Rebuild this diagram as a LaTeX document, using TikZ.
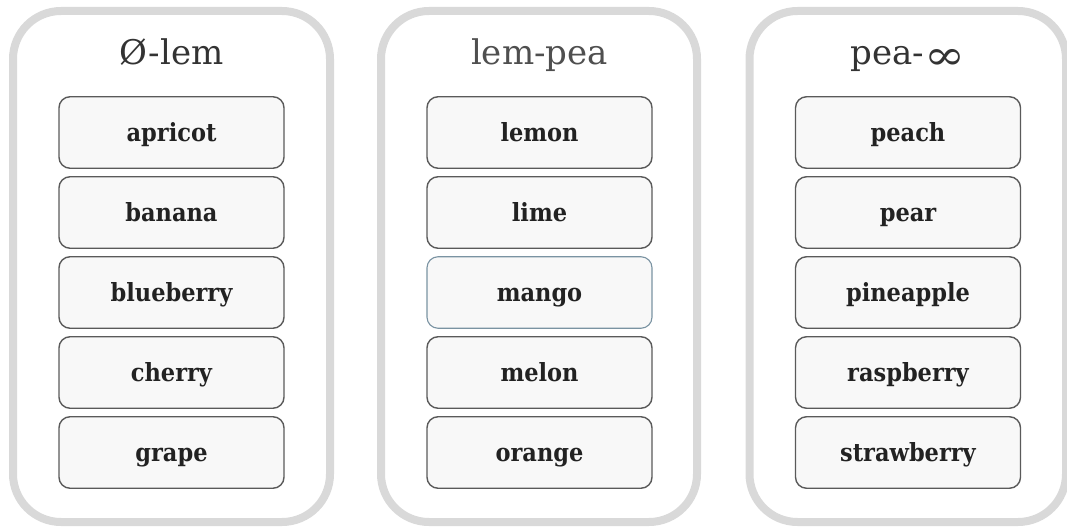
\documentclass[tikz,border=0pt]{standalone}
\usepackage{fontspec}
\usepackage{graphicx}
\setmainfont{DejaVu Serif}
\newfontfamily\labelfont{DejaVu Serif Condensed Bold}
\definecolor{framegray}{HTML}{D9D9D9}
\definecolor{boxline}{HTML}{5A5A5A}
\definecolor{boxfill}{HTML}{F8F8F8}
\definecolor{hiline}{HTML}{7A93A2}
\definecolor{titlegray}{HTML}{333333}
\definecolor{titlemid}{HTML}{4F4F4F}
\definecolor{labelink}{HTML}{222222}
\newcommand{\infsign}{\raisebox{-4.5pt}{\scalebox{1.45}[1.2]{∞}}}
\tikzset{
  group/.style={draw=framegray, line width=8pt, rounded corners=48pt},
  grouptitle/.style={anchor=base, text=titlegray, font=\fontsize{34}{40}\selectfont, inner sep=0pt},
  fruit/.style={draw=boxline, line width=1.4pt, fill=boxfill, rounded corners=11pt,
    minimum width=225pt, minimum height=71.5pt, inner sep=0pt,
    text height=18pt, text depth=0pt, text=labelink,
    font=\labelfont\fontsize{25}{30}\selectfont},
  fruitsel/.style={fruit, draw=hiline, line width=1.1pt}
}
\begin{document}
\begin{tikzpicture}[x=1pt, y=-1pt]
\useasboundingbox (0,0) rectangle (1067,529);
\clip (0,0) rectangle (1067,529);

% three range groups
\draw[group] (13,11) rectangle (330,522);
\draw[group] (381,11) rectangle (697,522);
\draw[group] (749.5,11) rectangle (1066,522);

\node[grouptitle] (t1) at (171.5,65) {Ø-lem};
\node[grouptitle, text=titlemid] (t2) at (539.5,65) {lem-pea};
\node[grouptitle] (t3) at (908,65) {pea-\infsign};

% first group
\node[fruit] (apricot)   at (171.5,132.5) {apricot};
\node[fruit] (banana)    at (171.5,212.5) {banana};
\node[fruit] (blueberry) at (171.5,292.5) {blueberry};
\node[fruit] (cherry)    at (171.5,372.5) {cherry};
\node[fruit] (grape)     at (171.5,452.5) {grape};

% second group
\node[fruit]    (lemon)  at (539.5,132.5) {lemon};
\node[fruit]    (lime)   at (539.5,212.5) {lime};
\node[fruitsel] (mango)  at (539.5,292.5) {mango};
\node[fruit]    (melon)  at (539.5,372.5) {melon};
\node[fruit]    (orange) at (539.5,452.5) {orange};

% third group
\node[fruit] (peach)      at (908,132.5) {peach};
\node[fruit] (pear)       at (908,212.5) {pear};
\node[fruit] (pineapple)  at (908,292.5) {pineapple};
\node[fruit] (raspberry)  at (908,372.5) {raspberry};
\node[fruit] (strawberry) at (908,452.5) {strawberry};
\end{tikzpicture}
\end{document}
